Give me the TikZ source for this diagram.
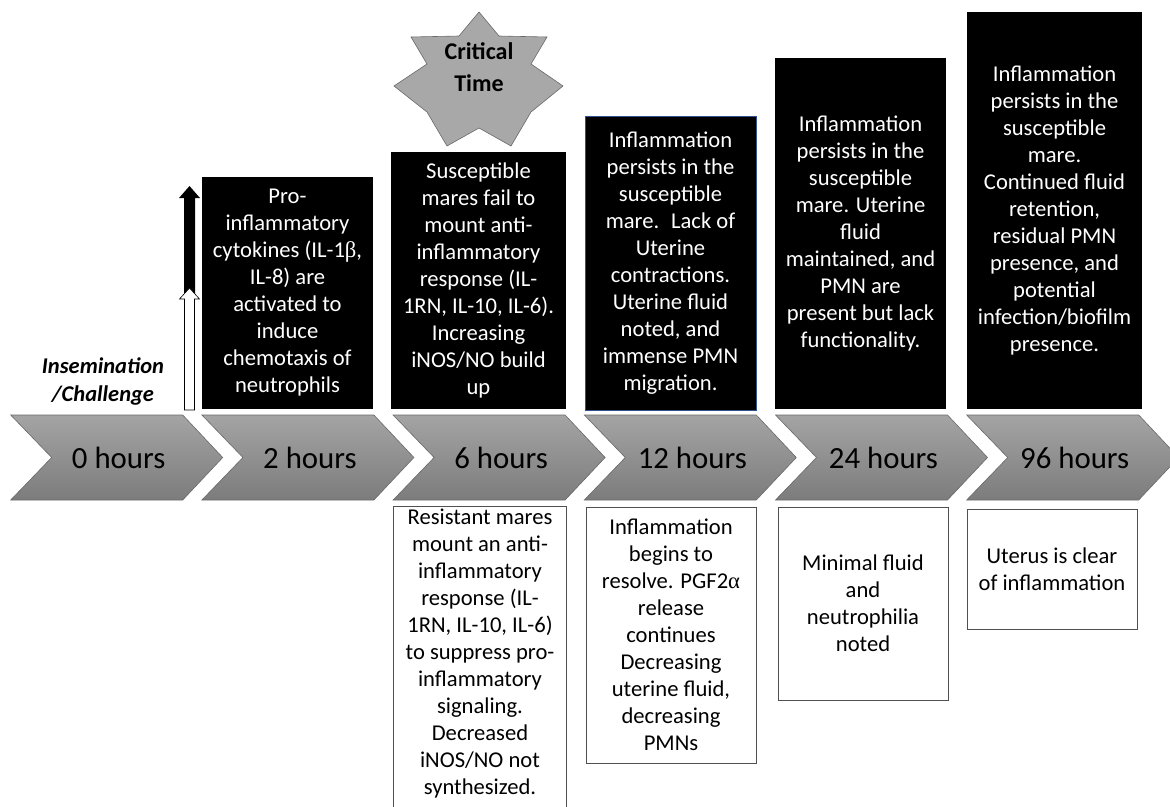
\documentclass[tikz,border=0pt]{standalone}
\usepackage{fontspec}
\setmainfont{Carlito}
\newfontfamily\grk{Liberation Serif}
\usetikzlibrary{positioning}

\definecolor{chevtop}{RGB}{164,164,164}
\definecolor{chevbot}{RGB}{124,124,124}
\definecolor{chevline}{RGB}{105,105,105}
\definecolor{starfill}{RGB}{168,168,168}
\definecolor{boxline}{RGB}{80,80,80}
\definecolor{navyline}{RGB}{47,82,143}

\begin{document}
\begin{tikzpicture}[x=1pt,y=-1pt,
  evtop/.style={shape=rectangle,fill=black,text=white,align=center,inner sep=0pt,font=\fontsize{22.6}{27}\selectfont},
  evbot/.style={evtop,fill=white,text=black,draw=boxline,line width=0.8pt},
  chev/.style={draw=chevline,line width=0.6pt,top color=chevtop,bottom color=chevbot},
  hrs/.style={font=\fontsize{30.8}{36}\selectfont}]
\def\cy{457.5};
\def\dx{191.2};

\useasboundingbox (0,0) rectangle (1170,806);
\clip (0,0) rectangle (1170,806);

\foreach \i/\hr in {0/0,1/2,2/6,3/12,4/24,5/96}{
  \pgfmathsetmacro{\L}{10.7+\dx*\i}
  \path[chev] (\L,415) -- (\L+172,415) -- (\L+212,\cy) -- (\L+172,500) -- (\L,500) -- (\L+41,\cy) -- cycle;
  \node[hrs] (h\hr) at (\L+108,\cy) {\hr\ hours};
}

\fill[black] (184,296) -- (184,198) -- (179,198) -- (189.5,186) -- (200,198) -- (195,198) -- (195,296) -- cycle;
\draw[fill=white,line width=0.6pt] (184.5,410) -- (184.5,299) -- (179.5,299) -- (189.5,288) -- (199.5,299) -- (194.5,299) -- (194.5,410) -- cycle;
\node[font=\bfseries\itshape\fontsize{22.5}{28}\selectfont,align=center] (insem) at (103,381) {Insemination\\/Challenge};

\draw[fill=starfill,draw=chevline,line width=0.6pt] (479,12) -- (499,36) -- (547,37) -- (531,64) -- (563,86) -- (531,112) -- (511,146) -- (479,128) -- (447,146) -- (427,112) -- (394,86) -- (427,64) -- (411,37) -- (459,36) -- cycle;
\node[font=\bfseries\fontsize{24}{32}\selectfont,align=center] (crit) at (479,67) {Critical\\Time};

\node[evtop,minimum width=171pt,minimum height=232pt] (e2) at (287.5,293) {Pro-\\inflammatory\\cytokines (IL-1{\grk β},\\IL-8) are\\activated to\\induce\\chemotaxis of\\neutrophils};
\node[evtop,minimum width=175pt,minimum height=257pt] (e3) at (478.5,280.5) {Susceptible\\mares fail to\\mount anti-\\inflammatory\\response (IL-\\1RN, IL-10, IL-6).\\Increasing\\iNOS/NO build\\up};
\node[evtop,draw=navyline,line width=0.8pt,minimum width=171pt,minimum height=294pt] (e4) at (670.5,263) {Inflammation\\persists in the\\susceptible\\mare.~ Lack of\\Uterine\\contractions.\\Uterine fluid\\noted, and\\immense PMN\\migration.};
\node[evtop,minimum width=171pt,minimum height=351pt] (e5) at (860.5,233.5) {Inflammation\\persists in the\\susceptible\\mare. Uterine\\fluid\\maintained, and\\PMN are\\present but lack\\functionality.};
\node[evtop,minimum width=175pt,minimum height=397pt] (e6) at (1054.5,210.5) {Inflammation\\persists in the\\susceptible\\mare.\\Continued fluid\\retention,\\residual PMN\\presence, and\\potential\\infection/biofilm\\presence.};

\node[evbot,draw=none,minimum width=172pt,minimum height=294pt] (r3) at (480,654) {Resistant mares\\mount an anti-\\inflammatory\\response (IL-\\1RN, IL-10, IL-6)\\to suppress pro-\\inflammatory\\signaling.\\Decreased\\iNOS/NO not\\synthesized.};
\draw[draw=boxline,line width=0.8pt] ([yshift=-12pt]r3.south west) -- (r3.north west) -- (r3.north east) -- ([yshift=-12pt]r3.south east);
\node[evbot,minimum width=170pt,minimum height=256pt] (r4) at (671,635) {Inflammation\\begins to\\resolve. PGF2{\grk α}\\release\\continues\\Decreasing\\uterine fluid,\\decreasing\\PMNs};
\node[evbot,minimum width=170pt,minimum height=193pt] (r5) at (863,603.5) {Minimal fluid\\and\\neutrophilia\\noted};
\node[evbot,minimum width=170pt,minimum height=120pt] (r6) at (1052,569) {Uterus is clear\\of inflammation};
\end{tikzpicture}
\end{document}
